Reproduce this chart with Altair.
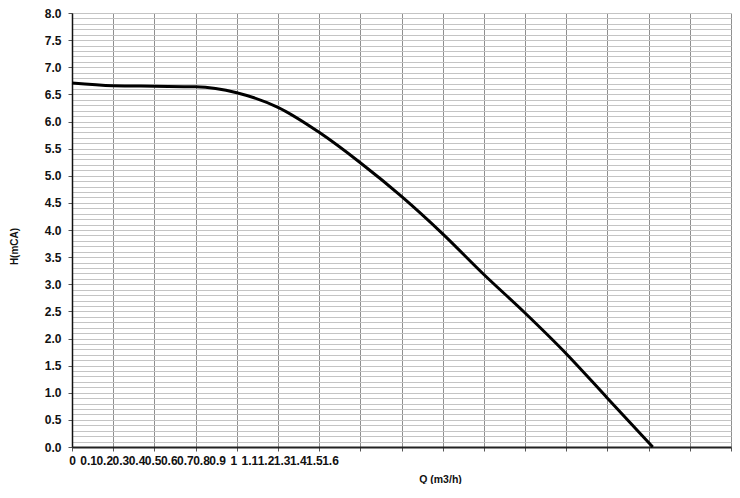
import altair as alt
import pandas as pd

# Pump curve
q = [0.0, 0.1, 0.2, 0.3, 0.4, 0.5, 0.6, 0.7, 0.8, 0.9, 1.0, 1.1, 1.2, 1.3, 1.41]
h = [6.71, 6.66, 6.65, 6.64, 6.53, 6.26, 5.80, 5.24, 4.62, 3.93, 3.18, 2.47, 1.72, 0.90, 0.0]

# Axis tick values
q_ticks = [round(i * 0.1, 1) for i in range(17)]   # 0 .. 1.6
h_grid = [round(i * 0.1, 1) for i in range(81)]    # 0 .. 8.0

curve = pd.DataFrame({"Q": q, "H": h})
labels = pd.DataFrame({"Qlab": q_ticks})

FONT = "Liberation Sans"

line = alt.Chart(curve).mark_line(
    color="black", strokeWidth=3, interpolate="monotone"
).encode(
    x=alt.X(
        "Q:Q",
        scale=alt.Scale(domain=[0, 1.6], nice=False),
        axis=alt.Axis(
            orient="bottom", values=q_ticks, labels=False, grid=True,
            gridColor="#8f8f8f", gridWidth=1, tickSize=4, tickColor="#555555",
            domainColor="#222222", domainWidth=2,
            title="Q (m3/h)", titleFont=FONT, titleFontSize=10.5,
            titleFontWeight="bold", titleColor="#111111",
            titleX=368, titleY=35, titleBaseline="alphabetic",
        ),
    ),
    y=alt.Y(
        "H:Q",
        scale=alt.Scale(domain=[0, 8], nice=False),
        axis=alt.Axis(
            values=h_grid, grid=True, gridColor="#c4c4c4", gridWidth=1,
            labelExpr="round(datum.value*10) % 5 == 0 ? format(datum.value, '.1f') : ''",
            labelOverlap=False, labelFont=FONT, labelFontSize=12,
            labelFontWeight="bold", labelColor="#111111", labelPadding=7,
            tickSize=4,
            tickColor={"condition": {"test": "round(datum.value*10) % 5 != 0", "value": "transparent"}, "value": "#555555"},
            domainColor="#111111", domainWidth=1.5,
            title="H(mCA)", titleFont=FONT, titleFontSize=10,
            titleFontWeight="bold", titleColor="#111111",
            titleX=-58, titleY=233, titleBaseline="middle",
        ),
    ),
)

lab = alt.Chart(labels).mark_point(opacity=0).encode(
    x=alt.X(
        "Qlab:Q",
        scale=alt.Scale(domain=[0, 4.087], nice=False),
        axis=alt.Axis(
            orient="bottom", values=q_ticks, format="~g", grid=False,
            ticks=False, tickSize=0, domain=False, labelPadding=8,
            labelFont=FONT, labelFontSize=12, labelFontWeight="bold",
            labelColor="#111111", labelOverlap=False, labelFlush=False,
            title=None,
        ),
    )
)

chart = alt.layer(line, lab).resolve_scale(x="independent").properties(
    width=659,
    height=434,
    autosize=alt.AutoSizeParams(type="none"),
    padding={"left": 64, "top": 5, "right": 1, "bottom": 37},
    background="white",
).configure_view(stroke=None)

chart.save("out.html", embed_options={"renderer": "svg", "actions": False})
